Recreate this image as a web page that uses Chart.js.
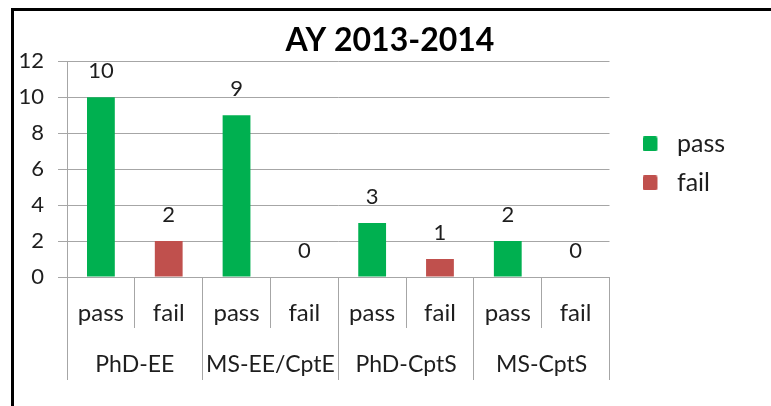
<!DOCTYPE html>
<html>
<head>
<meta charset="utf-8">
<script src="https://cdn.jsdelivr.net/npm/chart.js@4.4.0/dist/chart.umd.min.js"></script>
<style>
html, body { margin: 0; padding: 0; background: #fff; }
#wrap { position: relative; width: 771px; height: 406px; overflow: hidden; }
#frame { position: absolute; left: 11px; top: 8px; right: -5px; bottom: -5px;
  border-top: 3px solid #000; border-left: 3px solid #000; }
canvas { position: absolute; left: 0; top: 0; }
</style>
</head>
<body>
<div id="wrap">
  <div id="frame"></div>
  <canvas id="chart" width="780" height="406"></canvas>
</div>
<script>
// chart data
const levels = ['pass', 'fail', 'pass', 'fail', 'pass', 'fail', 'pass', 'fail'];
const programs = ['PhD-EE', 'MS-EE/CptE', 'PhD-CptS', 'MS-CptS'];
const passCounts = [10, null, 9, null, 3, null, 2, null];
const failCounts = [null, 2, null, 0, null, 1, null, 0];
const yTicks = [0, 2, 4, 6, 8, 10, 12];

const FONT = 'Lato';
const TEXT = '#1e1e1e';
const GRID = '#a6a6a6';
const COLORS = ['#00b050', '#c0504d'];

// legend swatch: 15px rounded square with some empty room on its right
function swatch(color) {
    const c = document.createElement('canvas');
    c.width = 22;
    c.height = 15;
    const g = c.getContext('2d');
    g.fillStyle = color;
    g.beginPath();
    g.roundRect(0, 0, 15, 15, 2);
    g.fill();
    return c;
}
const swatches = COLORS.map(swatch);

// value labels above each bar
const valueLabels = {
    id: 'valueLabels',
    afterDatasetsDraw(chart) {
        const ctx = chart.ctx;
        ctx.save();
        ctx.font = '22px ' + FONT;
        ctx.fillStyle = TEXT;
        ctx.textAlign = 'center';
        ctx.textBaseline = 'middle';
        chart.data.datasets.forEach((ds, i) => {
            chart.getDatasetMeta(i).data.forEach((bar, j) => {
                if (ds.data[j] == null) return;
                ctx.fillText(String(ds.data[j]), bar.x, bar.y - 26);
            });
        });
        ctx.restore();
    }
};

// second level of the category axis (program names + long dividers)
const groupAxis = {
    id: 'groupAxis',
    afterDraw(chart) {
        const x = chart.scales.x;
        const ctx = chart.ctx;
        const top = x.top;
        const half = (x.getPixelForValue(1) - x.getPixelForValue(0)) / 2;
        ctx.save();
        ctx.strokeStyle = GRID;
        ctx.lineWidth = 1;
        for (let g = 0; g <= programs.length; g++) {
            // same pixel snapping as the library grid lines
            const px = Math.round(x.getPixelForValue(g * 2) - half - 0.5) + 0.5;
            ctx.beginPath();
            ctx.moveTo(px, top);
            ctx.lineTo(px, top + 103);
            ctx.stroke();
        }
        ctx.font = '23px ' + FONT;
        ctx.fillStyle = TEXT;
        ctx.textAlign = 'center';
        ctx.textBaseline = 'middle';
        programs.forEach((p, g) => {
            const cx = (x.getPixelForValue(g * 2) + x.getPixelForValue(g * 2 + 1)) / 2;
            ctx.fillText(p, cx, top + 88);
        });
        ctx.restore();
    }
};

// empty axis used only to hold horizontal room on the right
const spacer = (w, weight) => ({
    type: 'linear',
    position: 'right',
    display: true,
    weight: weight,
    grid: { display: false },
    border: { display: false },
    ticks: { display: false },
    afterFit(s) { s.width = w; }
});

new Chart(document.getElementById('chart'), {
    type: 'bar',
    data: {
        labels: levels,
        datasets: [
            { label: 'pass', data: passCounts, backgroundColor: COLORS[0], stack: 's' },
            { label: 'fail', data: failCounts, backgroundColor: COLORS[1], stack: 's' }
        ]
    },
    options: {
        responsive: false,
        animation: false,
        devicePixelRatio: 1,
        categoryPercentage: 1,
        barPercentage: 0.41,
        layout: { padding: 0 },
        plugins: {
            title: {
                display: true,
                text: 'AY 2013-2014',
                color: '#000',
                font: { family: FONT, size: 32, weight: 'bold', lineHeight: 1.2 },
                padding: { top: 21, bottom: 2 }
            },
            legend: {
                position: 'right',
                fullSize: false,
                align: 'start',
                title: {
                    display: true,
                    text: ' ',
                    font: { family: FONT, size: 10, lineHeight: 1 },
                    padding: { top: 46, bottom: 0 }
                },
                labels: {
                    color: TEXT,
                    font: { family: FONT, size: 25 },
                    usePointStyle: true,
                    pointStyleWidth: 22,
                    boxHeight: 15,
                    padding: 14,
                    generateLabels(chart) {
                        const items = Chart.defaults.plugins.legend.labels.generateLabels(chart);
                        items.forEach((it, i) => { it.pointStyle = swatches[i]; });
                        return items;
                    }
                }
            },
            tooltip: { enabled: false }
        },
        scales: {
            x: {
                stacked: true,
                grid: { drawOnChartArea: false, tickLength: 51, color: GRID, offset: true },
                border: { color: GRID },
                ticks: { color: TEXT, font: { family: FONT, size: 24 }, padding: -29 },
                afterFit(s) { s.height = 129; }
            },
            y: {
                stacked: true,
                min: 0,
                max: 12,
                afterBuildTicks(s) { s.ticks = yTicks.map(v => ({ value: v })); },
                grid: { color: GRID, tickLength: 9 },
                border: { color: GRID },
                ticks: { color: TEXT, font: { family: FONT, size: 22 }, padding: 14 },
                afterFit(s) { s.width = 67; }
            },
            inner: spacer(19, 0),
            outer: spacer(54, 2000)
        }
    },
    plugins: [valueLabels, groupAxis]
});
</script>
</body>
</html>
